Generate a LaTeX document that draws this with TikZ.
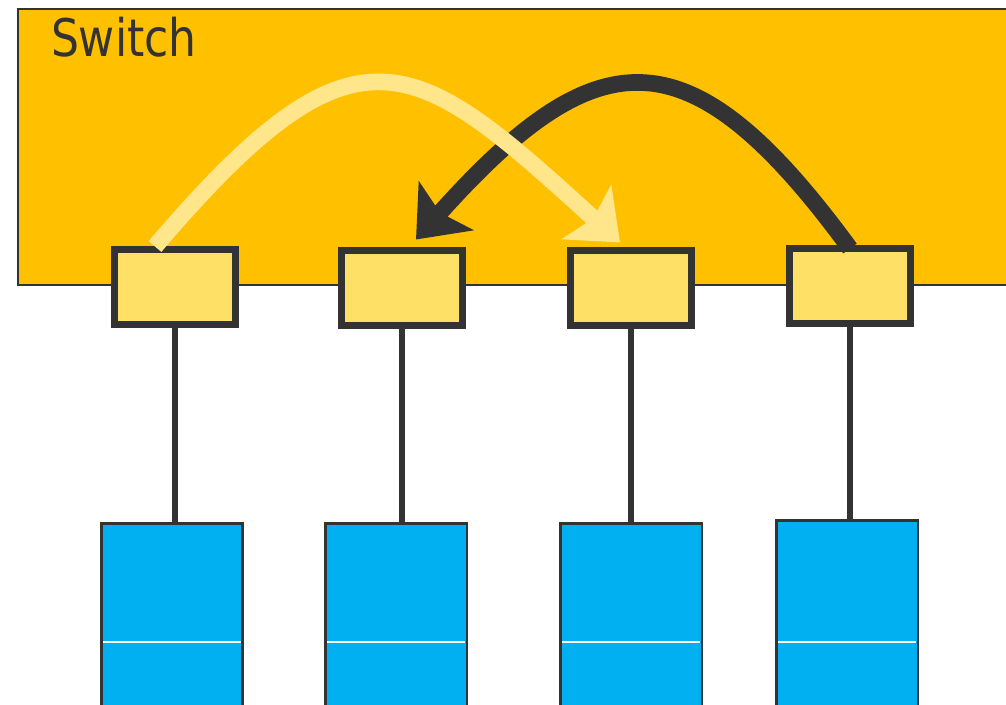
\documentclass[tikz,border=0pt]{standalone}
\usepackage{fontspec}
\newfontfamily\switchfont[FakeStretch=0.85]{DejaVu Sans}
\usetikzlibrary{arrows.meta,calc}
\definecolor{swyellow}{HTML}{FFC000}
\definecolor{portyellow}{HTML}{FFE066}
\definecolor{flowlight}{HTML}{FFE68A}
\definecolor{darkline}{HTML}{333333}
\definecolor{hostblue}{HTML}{00B0F0}
\tikzset{
    every node/.style={inner sep=0pt,outer sep=0pt},
    switchbox/.style={rectangle,draw=darkline,fill=swyellow,line width=1.2pt,anchor=north west,minimum width=20.4cm,minimum height=5.52cm},
    port/.style={rectangle,draw=darkline,fill=portyellow,line width=4pt,minimum width=2.42cm,minimum height=1.5cm},
    host/.style={rectangle,draw=darkline,fill=hostblue,line width=1.7pt,minimum width=2.84cm,minimum height=5.2cm,anchor=north},
    link/.style={draw=darkline,line width=3.4pt},
    hostsplit/.style={draw=white,line width=0.9pt},
    flow/.style={line width=9.5pt,-{Stealth[length=9mm,width=14.5mm,inset=1.8mm]}}
}
\begin{document}
\begin{tikzpicture}[x=0.02cm,y=-0.02cm]
    \useasboundingbox (0,0) rectangle (1006,704);
    \node[switchbox] (sw) at (18,9) {};
    \node[anchor=base west,text=darkline,font=\switchfont\fontsize{29.5}{32}\selectfont] (swlabel) at (51,56) {Switch};
    % ports on the switch
    \node[port] (p1) at (175,287) {};
    \node[port] (p2) at (402,288) {};
    \node[port] (p3) at (631,288) {};
    \node[port] (p4) at (850,286) {};
    % hosts
    \node[host] (h1) at (172,523) {};
    \node[host] (h2) at (396,523) {};
    \node[host] (h3) at (631,523) {};
    \node[host] (h4) at (847,520) {};
    \foreach \h in {h1,h2,h3,h4}
        \draw[hostsplit] ($(\h.west |- 0,642)+(2,0)$) -- ($(\h.east |- 0,642)+(-2,0)$);
    \foreach \i in {1,...,4}
        \draw[link] (p\i.south) -- (p\i.south |- h\i.north);
    % traffic between ports
    \draw[flow,darkline] (p4.north) .. controls (690,30) and (598,36) .. ($(p2.north)+(14,-11)$);
    \draw[flow,flowlight] ($(p1.north)+(-20,-3)$) .. controls (358,8) and (414,55) .. ($(p3.north)+(-11,-8)$);
\end{tikzpicture}
\end{document}
